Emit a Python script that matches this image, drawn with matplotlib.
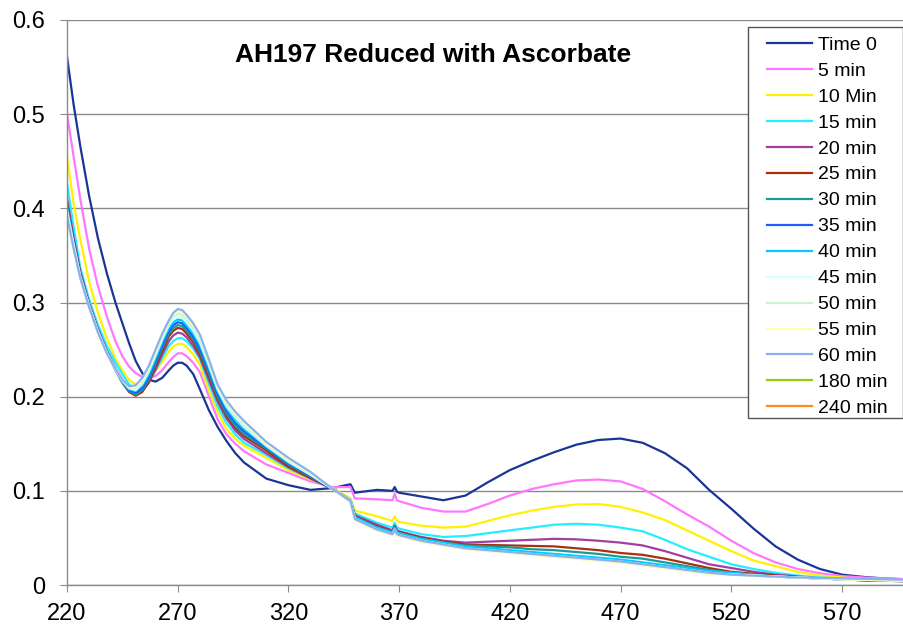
import matplotlib
matplotlib.use("Agg")
import matplotlib.pyplot as plt
from matplotlib.patches import Rectangle

plt.rcParams['font.family'] = ['Liberation Sans', 'DejaVu Sans']

# wavelength (nm) shared by all spectra
wavelength = [220, 223, 226, 230, 234, 238, 242, 245, 248, 251, 254, 257, 260, 263, 266, 268, 270,
              272, 274, 277, 280, 284, 288, 292, 296, 300, 310, 320, 330, 340, 348, 350, 360, 367,
              368, 369, 370, 380, 390, 400, 410, 420, 430, 440, 450, 460, 470, 480, 490, 500, 510,
              520, 530, 540, 550, 560, 570, 580, 590, 600]

time_0 = [.561, .510, .466, .413, .368, .331, .299, .278, .257, .238, .225, .218, .216, .220, .228, .233, .236,
          .236, .233, .224, .208, .186, .168, .153, .140, .130, .113, .106, .101, .103, .107, .098, .101, .100,
          .104, .099, .098, .094, .090, .095, .109, .122, .132, .141, .149, .154, .1555, .151, .140, .124, .101,
          .081, .060, .041, .027, .017, .011, .0085, .0068, .006]
min_5 = [.500, .455, .410, .357, .317, .285, .258, .243, .232, .225, .221, .220, .222, .228, .237, .242, .246,
         .246, .243, .236, .226, .201, .176, .160, .150, .142, .128, .119, .110, .104, .104, .092, .091, .090,
         .097, .090, .089, .082, .078, .078, .086, .095, .102, .107, .111, .112, .110, .102, .089, .075, .062,
         .047, .034, .024, .017, .0125, .0095, .008, .007, .006]
min_10 = [.455, .405, .367, .322, .289, .262, .240, .228, .218, .213, .214, .219, .227, .237, .248, .253, .256,
          .256, .253, .245, .234, .207, .184, .166, .155, .148, .135, .122, .112, .103, .092, .079, .073, .068,
          .073, .068, .067, .063, .061, .062, .068, .074, .079, .083, .0855, .086, .083, .077, .069, .058, .047,
          .036, .026, .020, .014, .010, .008, .006, .005, .0045]
min_15 = [.427, .380, .337, .303, .276, .254, .236, .224, .213, .208, .210, .217, .228, .241, .254, .259, .262,
          .262, .259, .251, .240, .214, .190, .172, .160, .151, .138, .124, .113, .102, .090, .076, .066, .061,
          .066, .061, .060, .054, .051, .052, .055, .058, .061, .064, .065, .064, .061, .057, .048, .038, .030,
          .022, .017, .013, .010, .008, .007, .006, .005, .0045]
min_20 = [.411, .369, .333, .299, .272, .249, .230, .218, .208, .203, .206, .215, .229, .245, .259, .265, .268,
          .267, .263, .254, .242, .218, .195, .177, .164, .155, .140, .125, .113, .102, .089, .074, .064, .058,
          .063, .058, .057, .051, .047, .045, .046, .047, .048, .049, .0485, .047, .045, .042, .036, .029, .022,
          .018, .014, .011, .009, .007, .006, .005, .0045, .004]
min_25 = [.405, .365, .330, .297, .270, .247, .228, .215, .205, .201, .205, .216, .232, .249, .264, .270, .273,
          .272, .267, .258, .245, .222, .198, .180, .167, .158, .143, .126, .114, .102, .090, .073, .062, .057,
          .062, .057, .056, .050, .046, .043, .0425, .042, .0415, .041, .039, .037, .034, .032, .028, .023, .018,
          .014, .012, .010, .008, .007, .006, .005, .0045, .004]
min_30 = [.403, .364, .329, .297, .270, .247, .228, .215, .206, .202, .207, .218, .235, .252, .267, .273, .276,
          .275, .270, .261, .248, .225, .200, .182, .169, .160, .145, .128, .115, .102, .090, .072, .061, .056,
          .061, .056, .055, .049, .045, .042, .041, .040, .038, .037, .035, .033, .030, .028, .024, .020, .016,
          .013, .011, .009, .008, .007, .006, .005, .0045, .004]
min_35 = [.402, .363, .328, .296, .270, .247, .228, .216, .207, .204, .209, .221, .238, .255, .270, .276, .279,
          .278, .273, .264, .251, .228, .203, .185, .172, .163, .146, .129, .116, .102, .090, .071, .060, .055,
          .060, .055, .054, .048, .044, .040, .038, .036, .034, .032, .030, .028, .026, .023, .020, .017, .014,
          .012, .010, .009, .008, .007, .006, .0055, .005, .0045]
min_40 = [.400, .362, .328, .296, .269, .247, .228, .216, .208, .206, .212, .224, .241, .258, .273, .279, .282,
          .281, .276, .267, .255, .231, .206, .188, .175, .166, .147, .130, .117, .102, .090, .072, .061, .056,
          .061, .056, .055, .049, .045, .041, .039, .037, .035, .033, .031, .029, .027, .024, .021, .018, .015,
          .013, .011, .009, .008, .007, .0065, .006, .0055, .005]
min_45 = [.398, .361, .327, .296, .269, .247, .228, .217, .209, .207, .214, .227, .244, .261, .276, .282, .285,
          .284, .279, .270, .258, .234, .208, .190, .178, .168, .148, .131, .117, .102, .090, .070, .059, .054,
          .059, .054, .053, .047, .043, .039, .037, .035, .033, .031, .029, .027, .025, .022, .019, .016, .013,
          .011, .010, .009, .008, .007, .006, .0055, .005, .0045]
min_50 = [.396, .360, .327, .296, .269, .246, .229, .217, .210, .209, .216, .229, .246, .263, .278, .285, .288,
          .287, .282, .273, .261, .236, .210, .192, .180, .170, .149, .132, .118, .102, .090, .070, .058, .053,
          .058, .053, .052, .046, .042, .038, .036, .034, .032, .030, .028, .026, .024, .021, .018, .015, .012,
          .011, .010, .009, .008, .007, .006, .0055, .005, .0045]
min_55 = [.394, .358, .326, .295, .268, .246, .229, .218, .210, .210, .218, .231, .248, .265, .280, .287, .290,
          .290, .285, .276, .264, .238, .211, .194, .182, .172, .150, .133, .119, .102, .090, .069, .058, .053,
          .058, .053, .052, .046, .042, .038, .036, .034, .032, .030, .028, .026, .024, .021, .018, .015, .012,
          .011, .010, .009, .008, .007, .006, .0055, .005, .0045]
min_60 = [.392, .357, .326, .295, .268, .246, .229, .218, .211, .212, .220, .233, .250, .267, .281, .289, .293,
          .292, .287, .278, .266, .240, .213, .196, .184, .174, .152, .135, .120, .102, .090, .070, .059, .054,
          .059, .054, .053, .047, .043, .039, .037, .035, .033, .031, .029, .027, .025, .022, .019, .016, .013,
          .011, .010, .009, .008, .0075, .007, .0065, .006, .0055]
min_180 = []
min_240 = []

series = [time_0, min_5, min_10, min_15, min_20, min_25, min_30, min_35, min_40,
          min_45, min_50, min_55, min_60, min_180, min_240]
labels = ["Time 0", "5 min", "10 Min", "15 min", "20 min", "25 min", "30 min", "35 min",
          "40 min", "45 min", "50 min", "55 min", "60 min", "180 min", "240 min"]
colors = ['#1A3596', '#FF77FF', '#FFF200', '#22EEFF', '#A040A0', '#A8300C', '#1A9A9A', '#1F5CFF',
          '#00CCFF', '#D6FFFF', '#CCF2D6', '#FFFFB3', '#8AB0F2', '#99CC00', '#FF8C1A']

fig = plt.figure(figsize=(9.04, 6.35), dpi=100)
ax = fig.add_axes([67 / 904, 50 / 635, 837 / 904, 565 / 635])

for vals, lab, col in zip(series, labels, colors):
    xs = wavelength if vals else []
    ax.plot(xs, vals, color=col, lw=1.6, label=lab)

ax.set_xlim(220, 598)
ax.set_ylim(0, 0.6)
ax.set_xticks([220, 270, 320, 370, 420, 470, 520, 570])
ax.set_yticks([0, 0.1, 0.2, 0.3, 0.4, 0.5, 0.6])
ax.set_yticklabels(["0", "0.1", "0.2", "0.3", "0.4", "0.5", "0.6"])
ax.yaxis.grid(True, color='#8a8a8a', lw=1)
ax.set_axisbelow(True)
for s in ['top', 'right']:
    ax.spines[s].set_visible(False)
for s in ['left', 'bottom']:
    ax.spines[s].set_color('#8a8a8a')
    ax.spines[s].set_linewidth(1)
ax.tick_params(axis='both', direction='out', length=5, color='#8a8a8a', labelsize=17)
ax.tick_params(axis='y', pad=11)
ax.tick_params(axis='x', pad=8)

ax.text(0.437, 0.938, "AH197 Reduced with Ascorbate", transform=ax.transAxes,
        ha='center', va='center', fontsize=19, fontweight='bold')

# legend box (white, hides the gridlines behind it)
ax.add_patch(Rectangle((0.8136, 0.2956), 0.1852, 0.692, transform=ax.transAxes,
                       facecolor='white', edgecolor='#555555', lw=1, zorder=4, clip_on=False))
leg = ax.legend(loc='upper left', bbox_to_anchor=(767 / 904, 1 - 36 / 635),
                bbox_transform=fig.transFigure, borderaxespad=0, borderpad=0,
                fontsize=14, labelspacing=0.43, handlelength=2.3, handletextpad=0.3,
                frameon=False)
leg.set_zorder(5)

fig.savefig("out.png", dpi=100)
